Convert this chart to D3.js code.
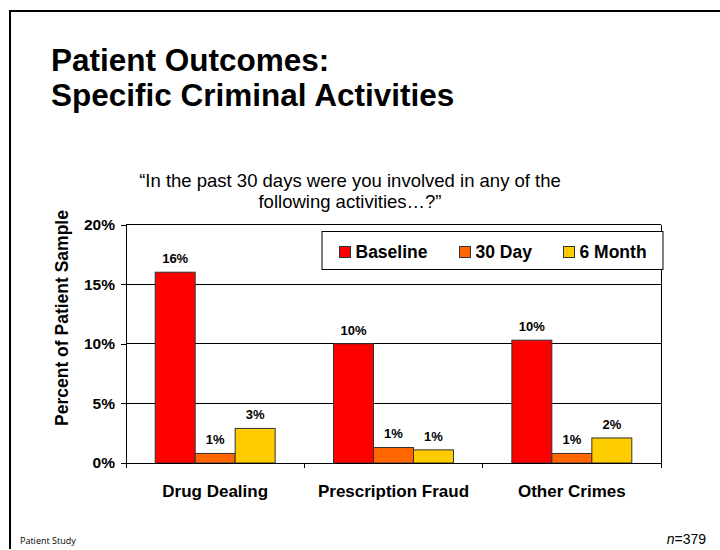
<!DOCTYPE html>
<html>
<head>
<meta charset="utf-8">
<script src="https://cdn.jsdelivr.net/npm/d3@7"></script>
<style>
  html, body { margin: 0; padding: 0; background: #fff; }
  svg { display: block; font-family: "Liberation Sans", Arial, sans-serif; }
</style>
</head>
<body>
<svg id="chart" width="720" height="550"></svg>
<script>
// Share of patients reporting each criminal activity in the past 30 days
const categories = ["Drug Dealing", "Prescription Fraud", "Other Crimes"];
const seriesNames = ["Baseline", "30 Day", "6 Month"];
const baseline = [16.0, 10.0, 10.3];
const day30 = [0.8, 1.3, 0.8];
const month6 = [2.9, 1.1, 2.1];
const yTicks = [0, 5, 10, 15, 20];
const seriesColors = ["#FF0000", "#FF6600", "#FFCC00"];

const seriesValues = [baseline, day30, month6];
const rows = categories.map((c, i) => ({
  category: c,
  values: seriesNames.map((s, j) => ({ series: s, value: seriesValues[j][i] }))
}));

const svg = d3.select("#chart");

// Slide frame: top and left rules
svg.append("path")
  .attr("d", "M10,549 L10,11 L720,11")
  .attr("fill", "none")
  .attr("stroke", "#000")
  .attr("stroke-width", 2);

// Heading
const title = svg.append("text")
  .attr("font-size", 31.5)
  .attr("font-weight", "bold")
  .attr("fill", "#000");
title.append("tspan").attr("x", 51).attr("y", 71).text("Patient Outcomes:");
title.append("tspan").attr("x", 51).attr("y", 106).text("Specific Criminal Activities");

// Survey question
const question = svg.append("text")
  .attr("text-anchor", "middle")
  .attr("font-size", 18.5)
  .attr("fill", "#000");
question.append("tspan").attr("x", 350).attr("y", 187)
  .text("\u201CIn the past 30 days were you involved in any of the");
question.append("tspan").attr("x", 350).attr("y", 208)
  .text("following activities\u2026?\u201D");

// Plot geometry
const plot = { left: 126, right: 661, top: 224.5, bottom: 463 };

const x = d3.scaleBand()
  .domain(categories)
  .range([plot.left, plot.right])
  .padding(0);

const xInner = d3.scaleBand()
  .domain(seriesNames)
  .range([0, x.bandwidth()])
  .paddingInner(0)
  .paddingOuter(0.73);

const y = d3.scaleLinear()
  .domain([0, 20])
  .range([plot.bottom, plot.top]);

const color = d3.scaleOrdinal().domain(seriesNames).range(seriesColors);

// Gridlines
svg.append("g")
  .selectAll("line")
  .data(yTicks.filter(t => t > 0))
  .join("line")
  .attr("x1", plot.left)
  .attr("x2", plot.right)
  .attr("y1", d => y(d))
  .attr("y2", d => y(d))
  .attr("stroke", "#000")
  .attr("stroke-width", 1)
  .attr("shape-rendering", "crispEdges");

// Right border of the plot area
svg.append("line")
  .attr("x1", plot.right).attr("x2", plot.right)
  .attr("y1", plot.top).attr("y2", plot.bottom)
  .attr("stroke", "#000")
  .attr("shape-rendering", "crispEdges");

// Y axis
const yAxis = svg.append("g")
  .attr("transform", `translate(${plot.left},0)`)
  .call(d3.axisLeft(y).tickValues(yTicks).tickSize(5).tickPadding(6)
    .tickFormat(d => d + "%"));
yAxis.select(".domain").attr("stroke", "#000").attr("shape-rendering", "crispEdges");
yAxis.selectAll(".tick line").attr("stroke", "#000").attr("shape-rendering", "crispEdges");
yAxis.selectAll(".tick text")
  .attr("font-family", "Liberation Sans, Arial, sans-serif")
  .attr("font-size", 15.5)
  .attr("font-weight", "bold")
  .attr("fill", "#000");

// Y axis title
svg.append("text")
  .attr("transform", "translate(68,318) rotate(-90)")
  .attr("text-anchor", "middle")
  .attr("font-size", 17.5)
  .attr("font-weight", "bold")
  .attr("fill", "#000")
  .text("Percent of Patient Sample");

// Bars
const groups = svg.append("g")
  .selectAll("g")
  .data(rows)
  .join("g")
  .attr("transform", d => `translate(${x(d.category)},0)`);

groups.selectAll("rect")
  .data(d => d.values)
  .join("rect")
  .attr("x", d => xInner(d.series))
  .attr("width", xInner.bandwidth())
  .attr("y", d => y(d.value))
  .attr("height", d => y(0) - y(d.value))
  .attr("fill", d => color(d.series))
  .attr("stroke", "#333")
  .attr("stroke-width", 1);

// Value labels
const pct = v => Math.round(v) + "%";
groups.selectAll("text")
  .data(d => d.values)
  .join("text")
  .attr("x", d => xInner(d.series) + xInner.bandwidth() / 2)
  .attr("y", d => y(d.value) - 9)
  .attr("text-anchor", "middle")
  .attr("font-size", 13)
  .attr("font-weight", "bold")
  .attr("fill", "#000")
  .text(d => pct(d.value));

// X axis baseline with category separators
const xAxis = svg.append("g");
xAxis.append("line")
  .attr("x1", plot.left).attr("x2", plot.right)
  .attr("y1", plot.bottom).attr("y2", plot.bottom)
  .attr("stroke", "#000")
  .attr("shape-rendering", "crispEdges");
const separators = categories.map(c => x(c)).concat([x(categories[categories.length - 1]) + x.bandwidth()]);
xAxis.selectAll("line.sep")
  .data(separators)
  .join("line")
  .attr("class", "sep")
  .attr("x1", d => d).attr("x2", d => d)
  .attr("y1", plot.bottom).attr("y2", plot.bottom + 5)
  .attr("stroke", "#000")
  .attr("shape-rendering", "crispEdges");
xAxis.selectAll("text")
  .data(categories)
  .join("text")
  .attr("x", d => x(d) + x.bandwidth() / 2)
  .attr("y", 497)
  .attr("text-anchor", "middle")
  .attr("font-size", 17)
  .attr("font-weight", "bold")
  .attr("fill", "#000")
  .text(d => d);

// Legend
const legend = svg.append("g");
legend.append("rect")
  .attr("x", 322).attr("y", 231.5)
  .attr("width", 341).attr("height", 38)
  .attr("fill", "#fff")
  .attr("stroke", "#000")
  .attr("stroke-width", 1);
const legendX = [339.5, 459.5, 563.5];
const items = legend.selectAll("g.item")
  .data(seriesNames)
  .join("g")
  .attr("class", "item")
  .attr("transform", (d, i) => `translate(${legendX[i]},246.5)`);
items.append("rect")
  .attr("width", 11).attr("height", 11)
  .attr("fill", d => color(d))
  .attr("stroke", "#333");
items.append("text")
  .attr("x", 16)
  .attr("y", 11.5)
  .attr("font-size", 17.5)
  .attr("font-weight", "bold")
  .attr("fill", "#000")
  .text(d => d);

// Footer
svg.append("text")
  .attr("x", 20).attr("y", 544)
  .attr("font-family", "Open Sans, sans-serif")
  .attr("font-size", 9)
  .attr("fill", "#000")
  .text("Patient Study");

const n = svg.append("text")
  .attr("x", 706).attr("y", 544)
  .attr("text-anchor", "end")
  .attr("font-size", 14)
  .attr("fill", "#000");
n.append("tspan").attr("font-style", "italic").text("n");
n.append("tspan").text("=379");
</script>
</body>
</html>
